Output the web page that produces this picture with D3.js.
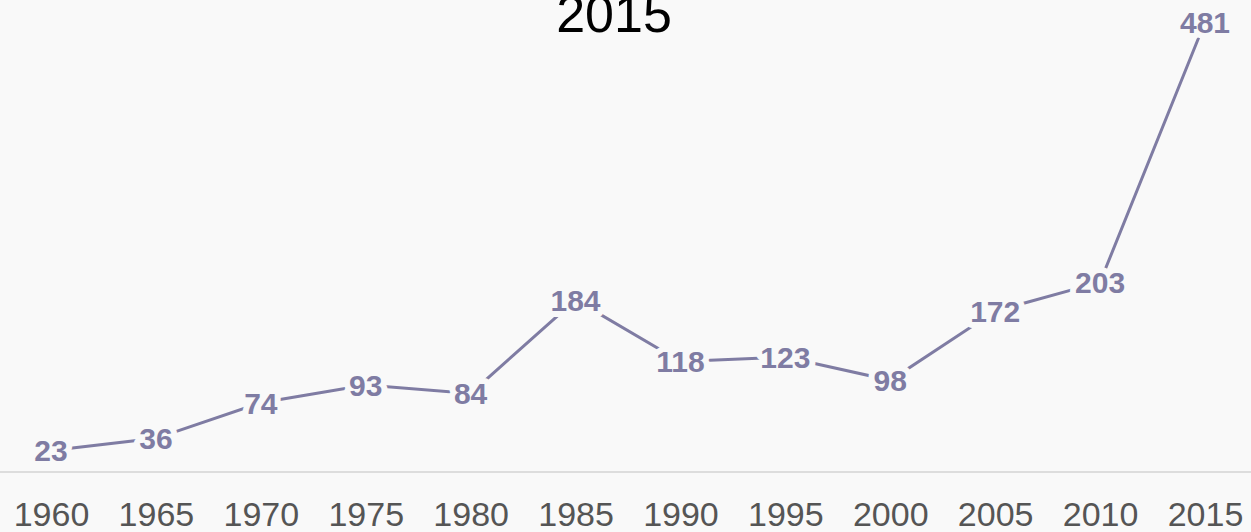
<!DOCTYPE html>
<html>
<head>
<meta charset="utf-8">
<script src="https://cdn.jsdelivr.net/npm/d3@7"></script>
<style>
html,body{margin:0;padding:0;background:#f9f9f9;}
svg{display:block;font-family:"Liberation Sans",Arial,sans-serif;}
</style>
</head>
<body>
<svg id="chart" width="1251" height="532"></svg>
<script>
const years = ["1960","1965","1970","1975","1980","1985","1990","1995","2000","2005","2010","2015"];
const values = [23,36,74,93,84,184,118,123,98,172,203,481];
const title = "2015";

const W = 1251, H = 532;
const svg = d3.select("#chart");
svg.append("rect").attr("width",W).attr("height",H).attr("fill","#f9f9f9");

const x = d3.scalePoint().domain(years).range([51,1205]);
const y = d3.scaleLinear().domain([0,481]).range([472,22]);
const color = "#7f7ca3";

// baseline
svg.append("line").attr("x1",0).attr("x2",W).attr("y1",y(0)).attr("y2",y(0))
  .attr("stroke","#dddddd").attr("stroke-width",2);

// x axis labels
const xAxis = d3.axisBottom(x).tickSize(0).tickPadding(0);
const gx = svg.append("g").attr("transform","translate(0,502)").call(xAxis);
gx.select(".domain").remove();
gx.selectAll("text").attr("font-size",34).attr("fill","#555555")
  .attr("font-family","'Liberation Sans',Arial,sans-serif").attr("dy","0.7em");

// line
const line = d3.line().x((d,i)=>x(years[i])).y(d=>y(d));
svg.append("path").datum(values).attr("d",line).attr("fill","none")
  .attr("stroke",color).attr("stroke-width",3);

// labels with halo
svg.append("g").selectAll("text").data(values).join("text")
  .attr("x",(d,i)=>x(years[i])).attr("y",d=>y(d))
  .attr("text-anchor","middle").attr("dy","0.36em")
  .attr("font-size",30).attr("font-weight","bold")
  .attr("fill",color).attr("stroke","#f9f9f9").attr("stroke-width",12)
  .attr("stroke-linejoin","round").attr("paint-order","stroke")
  .text(d=>d);

// title
svg.append("text").attr("x",614).attr("y",32).attr("text-anchor","middle")
  .attr("font-size",52).attr("fill","#000").text(title);
</script>
</body>
</html>
